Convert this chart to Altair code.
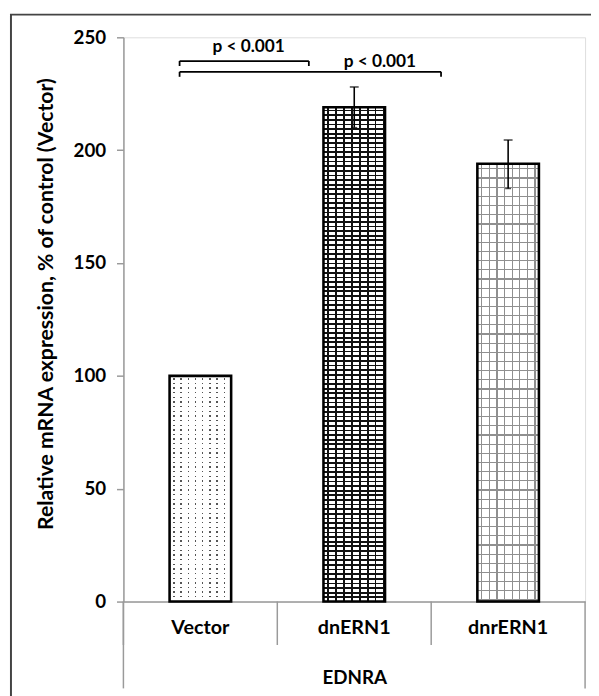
import altair as alt
import pandas as pd

# ---------------- data ----------------
categories = ["Vector", "dnERN1", "dnrERN1"]
values = [100, 219, 194]
err_low = [100, 210, 183]
err_high = [100, 228, 204.5]

# significance brackets (x in band units: 0..3 across the three categories)
bracket_left = [0.365, 0.365]
bracket_right = [1.205, 2.064]
bracket_y = [239.5, 234.7]
bracket_drop = [237.3, 232.5]
pval_labels = ["p < 0.001", "p < 0.001"]
pval_x = [0.814, 1.667]
pval_y = [243.6, 236.7]

y_ticks = [0, 50, 100, 150, 200, 250]

W, H = 468, 572
FONT = "Lato"
PX_PER_UNIT = H / 250.0

df = pd.DataFrame({"cat": categories, "val": values, "lo": err_low, "hi": err_high})

# -------- pattern fills built from striped gradients --------
def stripes(length_px, period, lw, line_color, bg, vertical, start=None):
    stops = []
    pos = period / 2.0 if start is None else start
    stops.append(alt.GradientStop(offset=0, color=bg))
    while pos + lw < length_px:
        a = pos / length_px
        b = (pos + lw) / length_px
        stops += [alt.GradientStop(offset=a, color=bg),
                  alt.GradientStop(offset=a, color=line_color),
                  alt.GradientStop(offset=b, color=line_color),
                  alt.GradientStop(offset=b, color=bg)]
        pos += period
    stops.append(alt.GradientStop(offset=1, color=bg))
    if vertical:
        return alt.LinearGradient(gradient="linear", stops=stops, x1=0, x2=1, y1=0, y2=0)
    return alt.LinearGradient(gradient="linear", stops=stops, x1=0, x2=0, y1=0, y2=1)

BAR_W = 62.4
TRANSP = "rgba(255,255,255,0)"

# (background, period, line width, line colour, vertical?)
patterns = {
    # dots: dark horizontal lines, then an opaque white mask with narrow clear slits
    "Vector": [("#ffffff", 4.7, 1.4, "#555555", False),
               ("#ffffff", 7.3, 1.4, TRANSP, True)],
    "dnERN1": [("#ffffff", 4.7, 1.8, "#111111", False),
               (TRANSP, 8.0, 1.7, "#111111", True)],
    "dnrERN1": [("#ffffff", 9.3, 1.2, "#8f8f8f", False),
                (TRANSP, 7.7, 1.2, "#8f8f8f", True)],
}

x_enc = alt.X("cat:N", sort=categories,
              scale=alt.Scale(paddingInner=0, paddingOuter=0),
              axis=alt.Axis(title="EDNRA", labelAngle=0, ticks=False, tickSize=0,
                            labelFont=FONT, labelFontSize=20, labelFontWeight="bold",
                            labelColor="#000", labelPadding=26, labelBaseline="middle",
                            titleFont=FONT, titleFontSize=19, titleFontWeight="bold",
                            titleColor="#000", titleY=77, titleBaseline="middle",
                            domainColor="#9a9a9a", domainWidth=1.5))
y_enc = alt.Y("val:Q", scale=alt.Scale(domain=[0, 250], nice=False),
              axis=alt.Axis(title="Relative mRNA expression, % of control (Vector)",
                            values=y_ticks, grid=False, tickSize=7, tickColor="#9a9a9a",
                            tickWidth=1.5, domainColor="#9a9a9a", domainWidth=1.5,
                            labelFont=FONT, labelFontSize=19, labelFontWeight="bold",
                            labelColor="#000", labelPadding=11,
                            titleFont=FONT, titleFontSize=21.5, titleFontWeight="bold",
                            titleColor="#000", titleAngle=270, titleX=-78, titleY=270,
                            titleAlign="center", titleBaseline="middle"))

base = alt.Chart(df)

fill_layers = []
for cat, val in zip(categories, values):
    hpx = val * PX_PER_UNIT
    for bg, period, lw, col, vertical in patterns[cat]:
        length = BAR_W if vertical else hpx
        grad = stripes(length, period, lw, col, bg, vertical)
        fill_layers.append(
            base.transform_filter(alt.datum.cat == cat)
            .mark_bar(width=alt.RelativeBandSize(0.4), fill=grad, strokeOpacity=0)
            .encode(x=x_enc, y=y_enc)
        )

outline = base.mark_bar(width=alt.RelativeBandSize(0.4), fillOpacity=0,
                        stroke="#000", strokeWidth=2.6).encode(x=x_enc, y=y_enc)

err_df = df[df["hi"] > df["lo"]]
err_rule = alt.Chart(err_df).mark_rule(color="#000", strokeWidth=1.6).encode(
    x=alt.X("cat:N", sort=categories), y=alt.Y("lo:Q"), y2="hi:Q")
err_cap_hi = alt.Chart(err_df).mark_tick(color="#000", thickness=1.6, size=9).encode(
    x=alt.X("cat:N", sort=categories), y=alt.Y("hi:Q"))
err_cap_lo = alt.Chart(err_df).mark_tick(color="#000", thickness=1.4, size=6).encode(
    x=alt.X("cat:N", sort=categories), y=alt.Y("lo:Q"))

# category separators below the x axis
sep = base.mark_rule(color="#9a9a9a", strokeWidth=1.5).encode(
    x=alt.X("cat:N", sort=categories, bandPosition=0),
    y=alt.value(H), y2=alt.value(H + 44))
edge_df = pd.DataFrame({"k": [0]})
right_edge = alt.Chart(edge_df).mark_rule(color="#9a9a9a", strokeWidth=1.5).encode(
    x=alt.value(W), y=alt.value(H), y2=alt.value(H + 88))
left_edge = alt.Chart(edge_df).mark_rule(color="#9a9a9a", strokeWidth=1.5).encode(
    x=alt.value(0), y=alt.value(H), y2=alt.value(H + 88))

# brackets
rows = []
for l, r, y, d in zip(bracket_left, bracket_right, bracket_y, bracket_drop):
    rows.append({"x": l, "x2": r, "y": y, "y2": y})
    rows.append({"x": l, "x2": l, "y": y, "y2": d})
    rows.append({"x": r, "x2": r, "y": y, "y2": d})
br_df = pd.DataFrame(rows)
bx = alt.X("x:Q", scale=alt.Scale(domain=[0, 3], nice=False, zero=False), axis=None)
brackets = alt.Chart(br_df).mark_rule(color="#000", strokeWidth=1.8).encode(
    x=bx, x2="x2:Q", y=alt.Y("y:Q", scale=alt.Scale(domain=[0, 250], nice=False)), y2="y2:Q")

pv_df = pd.DataFrame({"x": pval_x, "y": pval_y, "t": pval_labels})
pv_text = alt.Chart(pv_df).mark_text(font=FONT, fontSize=17.5, fontWeight="bold",
                                     color="#000", baseline="alphabetic").encode(
    x=bx, y=alt.Y("y:Q", scale=alt.Scale(domain=[0, 250], nice=False)), text="t:N")

frame = alt.Chart(edge_df).mark_rect(fillOpacity=0, stroke="#444", strokeWidth=2).encode(
    x=alt.value(-114), x2=alt.value(W + 200), y=alt.value(-23), y2=alt.value(H + 300))

main = alt.layer(*fill_layers, outline, err_rule, err_cap_hi, err_cap_lo,
                 sep, right_edge, left_edge)
annot = alt.layer(brackets, pv_text)

chart = alt.layer(main, annot, frame).resolve_scale(x="independent").properties(
    width=W, height=H,
    autosize=alt.AutoSizeParams(type="none"),
    padding={"left": 117, "top": 25, "right": 6, "bottom": 91},
).configure_view(strokeOpacity=0).configure(background="white")

chart.save("out.html", embed_options={"renderer": "svg", "actions": False})
